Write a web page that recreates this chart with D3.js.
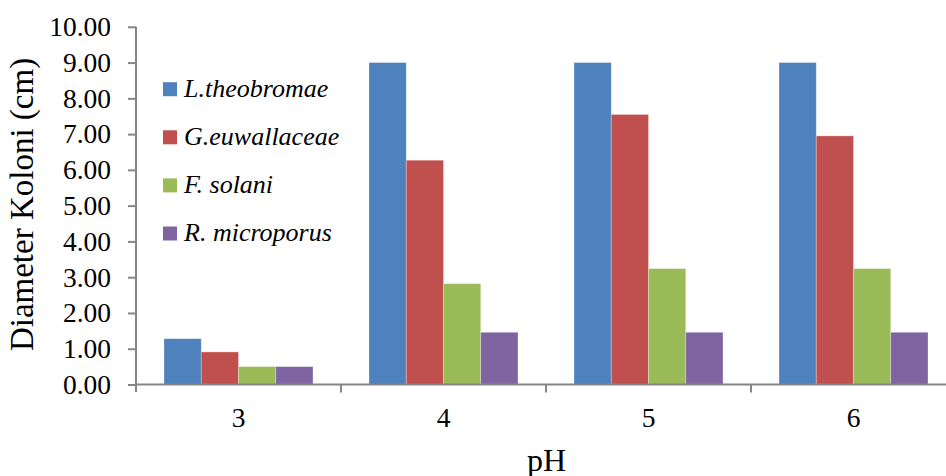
<!DOCTYPE html>
<html><head><meta charset="utf-8">
<script src="https://cdn.jsdelivr.net/npm/d3@7"></script>
<style>body{margin:0;background:#fff;} svg{display:block;} svg text{font-family:"Liberation Serif","Tinos","Times New Roman","DejaVu Serif",serif;}</style>
</head><body>
<svg id="c" width="946" height="476"></svg>
<script>
const categories = ["3","4","5","6"];
const seriesNames = ["L.theobromae","G.euwallaceae","F. solani","R. microporus"];
const seriesColors = ["#4F81BD","#C0504D","#9BBB59","#8064A2"];
const lTheobromae = [1.28, 9.00, 9.00, 9.00];
const gEuwallaceae = [0.91, 6.27, 7.55, 6.95];
const fSolani = [0.50, 2.82, 3.24, 3.24];
const rMicroporus = [0.50, 1.46, 1.46, 1.46];
const yTicks = [0,1,2,3,4,5,6,7,8,9,10];

const series = [lTheobromae, gEuwallaceae, fSolani, rMicroporus];
const svg = d3.select("#c");
const axisColor = "#868686";

const y = d3.scaleLinear().domain([0,10]).range([384.5, 26.8]);
const x0 = d3.scaleBand().domain(categories).range([136, 956]).paddingInner(0).paddingOuter(0);
const x1 = d3.scaleBand().domain(d3.range(series.length)).range([28, 177]).padding(0);

// bars
categories.forEach((c, ci) => {
  series.forEach((s, si) => {
    svg.append("rect")
      .attr("x", x0(c) + x1(si))
      .attr("y", y(s[ci]))
      .attr("width", x1.bandwidth())
      .attr("height", y(0) - y(s[ci]))
      .attr("fill", seriesColors[si])
      .attr("stroke", "rgba(255,255,255,0.35)")
      .attr("stroke-width", 0.8);
  });
});

// y axis
const yAxis = svg.append("g").attr("transform", "translate(136,0)")
  .call(d3.axisLeft(y).tickValues(yTicks).tickFormat(d3.format(".2f")).tickSizeOuter(0).tickSize(8).tickPadding(17));
yAxis.attr("font-family", null).attr("font-size", null);
yAxis.select(".domain").attr("stroke", axisColor).attr("stroke-width", 2).attr("d", "M0,26.8V392");
yAxis.selectAll(".tick line").attr("stroke", axisColor).attr("stroke-width", 2);
yAxis.selectAll(".tick text").style("font-size", "27.5px").attr("fill", "#000");

// x axis
const xAxis = svg.append("g").attr("transform", "translate(0,384.5)")
  .call(d3.axisBottom(x0).tickSize(0).tickPadding(22.5).tickSizeOuter(0));
xAxis.attr("font-family", null).attr("font-size", null);
xAxis.select(".domain").attr("stroke", axisColor).attr("stroke-width", 2).attr("d", "M136,0H946");
xAxis.selectAll(".tick text").style("font-size", "27.5px").attr("fill", "#000");
// category boundary ticks
svg.append("g").selectAll("line").data(categories.slice(1)).join("line")
  .attr("x1", d => x0(d)).attr("x2", d => x0(d))
  .attr("y1", 384.5).attr("y2", 392.5)
  .attr("stroke", axisColor).attr("stroke-width", 2);

// axis titles
svg.append("text").attr("x", 546.5).attr("y", 470.5).attr("text-anchor", "middle")
  .style("font-size", "32px").text("pH");
svg.append("text").attr("transform", "translate(33,204.5) rotate(-90)").attr("text-anchor", "middle")
  .style("font-size", "33px").text("Diameter Koloni (cm)");

// legend
const lg = svg.append("g");
seriesNames.forEach((n, i) => {
  const base = 96.7 + i * 48.1;
  lg.append("rect").attr("x", 163).attr("y", base - 14.5).attr("width", 14).attr("height", 14).attr("fill", seriesColors[i]);
  lg.append("text").attr("x", 184).attr("y", base).style("font-style", "italic")
    .style("font-size", "26px").text(n);
});
</script>
</body></html>
